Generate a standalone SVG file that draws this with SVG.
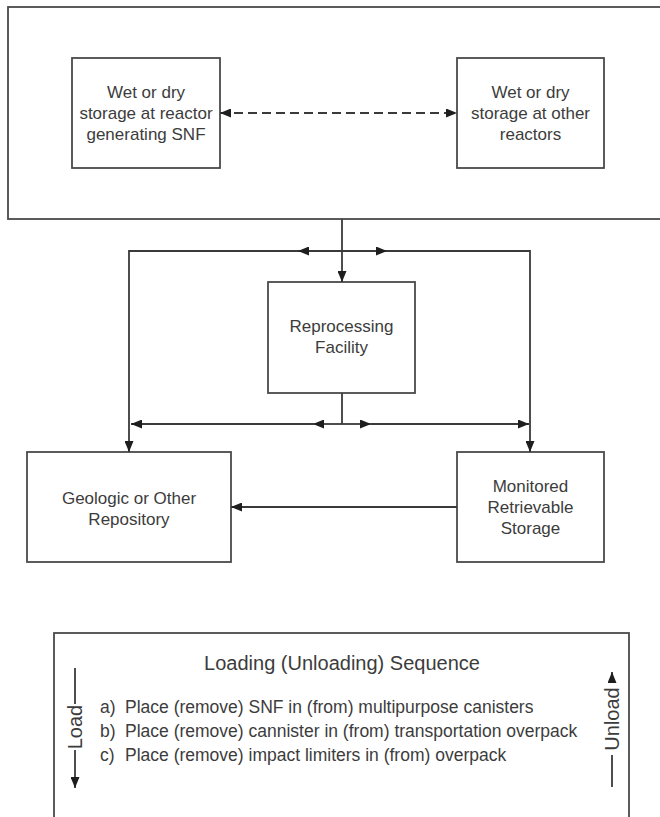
<svg xmlns="http://www.w3.org/2000/svg" width="660" height="817" viewBox="0 0 660 817">
<style>
text{font-family:"Liberation Sans",Arial,sans-serif;fill:#3c3c3c}
.box{fill:#fff;stroke:#4a4a4a;stroke-width:1.8}
.lbl{font-size:17px;text-anchor:middle}
.con{fill:none;stroke:#3a3a3a;stroke-width:1.8}
.list{font-size:17.5px}
</style>
<defs>
<marker id="ah" viewBox="0 0 11 9" refX="11" refY="4.5" markerWidth="11" markerHeight="9" orient="auto-start-reverse" markerUnits="userSpaceOnUse"><path d="M0,0 L11,4.5 L0,9 z" fill="#1e1e1e"/></marker>
</defs>
<rect width="660" height="817" fill="#fff"/>
<g id="site">
<rect class="box" x="8" y="7" width="670" height="212"/>
</g>
<g id="reactor">
<rect class="box" x="72" y="58" width="148" height="110"/>
<text class="lbl" x="146" y="98">Wet or dry</text>
<text class="lbl" x="146" y="119">storage at reactor</text>
<text class="lbl" x="146" y="140">generating SNF</text>
</g>
<g id="other">
<rect class="box" x="457" y="58" width="147" height="110"/>
<text class="lbl" x="530.5" y="98">Wet or dry</text>
<text class="lbl" x="530.5" y="119">storage at other</text>
<text class="lbl" x="530.5" y="140">reactors</text>
</g>
<g id="reprocessing">
<rect class="box" x="268" y="282" width="147" height="111"/>
<text class="lbl" x="341.5" y="332">Reprocessing</text>
<text class="lbl" x="341.5" y="353">Facility</text>
</g>
<g id="geologic">
<rect class="box" x="27" y="452" width="204" height="110"/>
<text class="lbl" x="129" y="504">Geologic or Other</text>
<text class="lbl" x="129" y="525">Repository</text>
</g>
<g id="mrs">
<rect class="box" x="457" y="452" width="147" height="110"/>
<text class="lbl" x="530.5" y="492">Monitored</text>
<text class="lbl" x="530.5" y="513">Retrievable</text>
<text class="lbl" x="530.5" y="534">Storage</text>
</g>
<g id="connectors">
<path class="con" d="M220,113 H457" stroke-dasharray="9,5" marker-start="url(#ah)" marker-end="url(#ah)"/>
<path class="con" d="M342,219 V282" marker-end="url(#ah)"/>
<path class="con" d="M342,251 H298" marker-end="url(#ah)"/>
<path class="con" d="M342,251 H387" marker-end="url(#ah)"/>
<path class="con" d="M298,251 H129 V452" marker-end="url(#ah)"/>
<path class="con" d="M387,251 H530 V452" marker-end="url(#ah)"/>
<path class="con" d="M342,393 V424"/>
<path class="con" d="M342,424 H313" marker-end="url(#ah)"/>
<path class="con" d="M342,424 H371" marker-end="url(#ah)"/>
<path class="con" d="M313,424 H131" marker-end="url(#ah)"/>
<path class="con" d="M371,424 H529" marker-end="url(#ah)"/>
<path class="con" d="M457,507 H231" marker-end="url(#ah)"/>
</g>
<g id="sequence">
<rect class="box" x="54" y="633" width="575" height="200"/>
<text x="342" y="670" font-size="20px" text-anchor="middle">Loading (Unloading) Sequence</text>
<text class="list" y="713"><tspan x="100">a)</tspan><tspan x="125">Place (remove) SNF in (from) multipurpose canisters</tspan></text>
<text class="list" y="737"><tspan x="100">b)</tspan><tspan x="125">Place (remove) cannister in (from) transportation overpack</tspan></text>
<text class="list" y="761"><tspan x="100">c)</tspan><tspan x="125">Place (remove) impact limiters in (from) overpack</tspan></text>
<path class="con" d="M75,668 V704"/>
<path class="con" d="M75,750 V788" marker-end="url(#ah)"/>
<text x="0" y="0" font-size="20px" text-anchor="middle" transform="translate(82,727) rotate(-90)">Load</text>
<path class="con" d="M612,787 V755"/>
<path class="con" d="M612,683 V672" marker-end="url(#ah)"/>
<text x="0" y="0" font-size="20px" text-anchor="middle" transform="translate(619,719) rotate(-90)">Unload</text>
</g>
</svg>
